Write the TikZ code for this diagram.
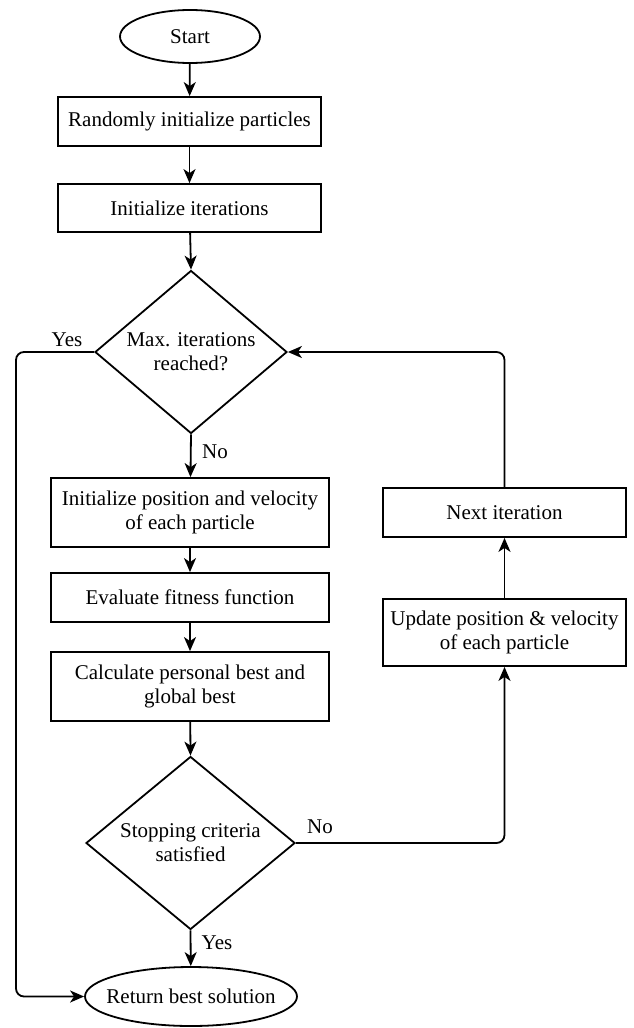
\documentclass[tikz,border=0pt]{standalone}
\usepackage{fontspec}
\setmainfont{Liberation Serif}
\usetikzlibrary{shapes.geometric,arrows.meta}
\begin{document}
\begin{tikzpicture}[x=1pt,y=-1pt,
  font=\fontsize{21}{24}\selectfont,
  proc/.style={draw, rectangle, line width=1.8pt, inner sep=0pt, align=center},
  term/.style={draw, ellipse, line width=1.8pt, inner sep=0pt},
  dec/.style={draw, diamond, line width=1.8pt, inner sep=0pt},
  arr/.style={line width=1.8pt, -{Stealth[length=14pt,width=12pt,inset=4pt]}},
  lbl/.style={inner sep=0pt}
]
\useasboundingbox (0,0) rectangle (633,1028);
\node[term, minimum width=140pt, minimum height=53pt,
  label={center:Start}] (start) at (190,36.5) {};
\node[proc, minimum width=263pt, minimum height=49pt] (rinit) at (189.5,121.5) {Randomly initialize particles};
\node[proc, minimum width=263pt, minimum height=48pt] (iinit) at (189.5,208) {Initialize iterations};
\node[dec, minimum width=192pt, minimum height=163pt,
  label={[align=center]center:Max. iterations\\reached?}] (maxd) at (191,352) {};
\node[proc, minimum width=278pt, minimum height=69pt] (pinit) at (190,512.5) {Initialize position and velocity\\of each particle};
\node[proc, minimum width=278pt, minimum height=49pt] (evalf) at (190,597.5) {Evaluate fitness function};
\node[proc, minimum width=278pt, minimum height=69pt] (calc) at (190,686.5) {Calculate personal best and\\global best};
\node[dec, minimum width=209pt, minimum height=173pt,
  label={[align=center]center:Stopping criteria\\satisfied}] (stopd) at (190.5,843) {};
\node[term, minimum width=212pt, minimum height=59pt,
  label={center:Return best solution}] (ret) at (191,996.5) {};
\node[proc, minimum width=243pt, minimum height=67pt] (upd) at (504.5,632.5) {Update position \& velocity\\of each particle};
\node[proc, minimum width=243pt, minimum height=49pt] (nxt) at (504.5,512.5) {Next iteration};
\coordinate (lc) at (16,352);

\draw[arr] (start) -- (rinit);
\draw[arr] (rinit) -- (iinit);
\draw[arr] (iinit) -- (maxd.north);
\draw[arr] (maxd.south) -- (pinit);
\draw[arr] (pinit) -- (evalf);
\draw[arr] (evalf) -- (calc);
\draw[arr] (calc) -- (stopd.north);
\draw[arr] (stopd.south) -- (ret);
\draw[arr, rounded corners=8pt] (stopd.east) -| (upd.south);
\draw[arr] (upd) -- (nxt);
\draw[arr, rounded corners=8pt] (nxt.north) |- (maxd.east);
\draw[arr, rounded corners=8pt] (maxd.west) -- (lc) |- (ret.west);

\node[lbl] (yes1) at (67,340) {Yes};
\node[lbl] (no1) at (215,452) {No};
\node[lbl] (no2) at (320,827) {No};
\node[lbl] (yes2) at (217,943) {Yes};
\end{tikzpicture}
\end{document}
